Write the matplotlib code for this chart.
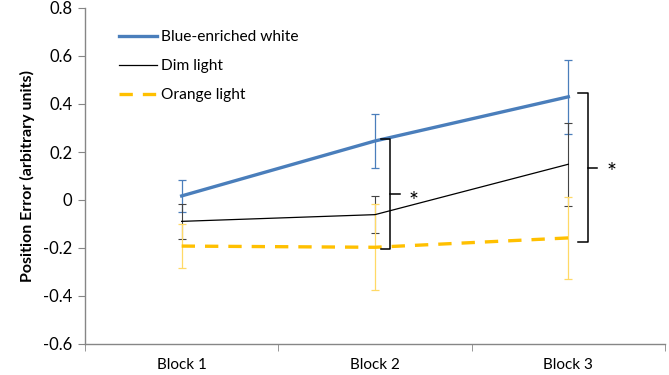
import numpy as np
import matplotlib
matplotlib.use('Agg')
import matplotlib.pyplot as plt

plt.rcParams['font.family'] = ['Lato', 'DejaVu Sans']

blocks = ['Block 1', 'Block 2', 'Block 3']
blue_mean = [0.017, 0.246, 0.43]
blue_err = [0.065, 0.112, 0.155]
dim_mean = [-0.089, -0.061, 0.149]
dim_err = [0.074, 0.078, 0.172]
orange_mean = [-0.192, -0.197, -0.158]
orange_err = [0.09, 0.18, 0.172]

c_blue = '#4A7EBB'
c_dim = '#000000'
c_orange = '#FFC000'

x = np.arange(1, len(blocks) + 1)

fig = plt.figure(figsize=(6.69, 3.75), dpi=100)
ax = fig.add_axes([85/669, 31/375, 580/669, 336/375])

# error bars first, thin
ax.errorbar(x, blue_mean, yerr=blue_err, fmt='none', ecolor=c_blue, elinewidth=0.9, capsize=3, capthick=0.9, zorder=2)
ax.errorbar(x, dim_mean, yerr=dim_err, fmt='none', ecolor='#444444', elinewidth=0.8, capsize=3, capthick=0.8, zorder=2)
ax.errorbar(x, orange_mean, yerr=orange_err, fmt='none', ecolor='#FFD966', elinewidth=0.9, capsize=3, capthick=0.9, zorder=2)

ax.plot(x, blue_mean, color=c_blue, lw=2.4, label='Blue-enriched white', zorder=3)
ax.plot(x, dim_mean, color=c_dim, lw=0.9, label='Dim light', zorder=3)
ax.plot(x, orange_mean, color=c_orange, lw=2.4, ls=(0, (4, 3)), label='Orange light', zorder=3)

# significance brackets
def bracket(xb, y0, y1, hook=0.05, tick=0.05):
    ym = (y0 + y1) / 2
    ax.plot([xb - hook, xb, xb, xb - hook], [y1, y1, y0, y0], color='black', lw=1.1, zorder=4)
    ax.plot([xb, xb + tick], [ym, ym], color='black', lw=1.1, zorder=4)

bracket(2.08, -0.204, 0.255)
ax.text(2.2, -0.005, '*', fontsize=17, ha='center', va='center')
bracket(3.1, -0.177, 0.447)
ax.text(3.225, 0.115, '*', fontsize=17, ha='center', va='center')

ax.set_xlim(0.5, 3.5)
ax.set_ylim(-0.6, 0.8)
ax.set_yticks(np.arange(-0.6, 0.81, 0.2))
ax.set_yticklabels(['-0.6', '-0.4', '-0.2', '0', '0.2', '0.4', '0.6', '0.8'])
ax.set_xticks(x)
ax.set_xticklabels(blocks)
ax.set_xticks([0.5, 1.5, 2.5, 3.5], minor=True)
ax.tick_params(axis='x', which='major', length=0, pad=10, labelsize=11)
ax.tick_params(axis='x', which='minor', length=5, color='#868686', direction='out')
ax.tick_params(axis='y', length=5, color='#868686', labelsize=12, pad=4)

for s in ['top', 'right']:
    ax.spines[s].set_visible(False)
for s in ['left', 'bottom']:
    ax.spines[s].set_color('#868686')
    ax.spines[s].set_linewidth(1.0)

ax.set_ylabel('Position Error (arbitrary units)', fontweight='bold', fontsize=11.5, labelpad=6)

ax.legend(loc='upper left', bbox_to_anchor=(0.035, 0.975), frameon=False, fontsize=11.2,
          handlelength=2.4, handletextpad=0.3, labelspacing=0.95)

fig.savefig('out.png', dpi=100)
